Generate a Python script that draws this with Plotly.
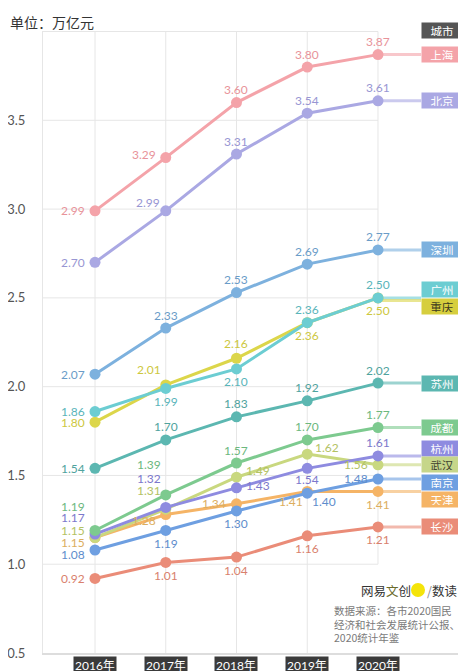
import plotly.graph_objects as go

# ---------------- data ----------------
years = [2016, 2017, 2018, 2019, 2020]
year_labels = ["2016年", "2017年", "2018年", "2019年", "2020年"]
y_ticks = [0.5, 1.0, 1.5, 2.0, 2.5, 3.0, 3.5]
y_tick_text = ["0.5", "1.0", "1.5", "2.0", "2.5", "3.0", "3.5"]

shanghai = [2.99, 3.29, 3.60, 3.80, 3.87]
beijing = [2.70, 2.99, 3.31, 3.54, 3.61]
shenzhen = [2.07, 2.33, 2.53, 2.69, 2.77]
guangzhou = [1.86, 1.99, 2.10, 2.36, 2.50]
chongqing = [1.80, 2.01, 2.16, 2.36, 2.50]
suzhou = [1.54, 1.70, 1.83, 1.92, 2.02]
chengdu = [1.19, 1.39, 1.57, 1.70, 1.77]
hangzhou = [1.17, 1.32, 1.43, 1.54, 1.61]
wuhan = [1.15, 1.31, 1.49, 1.62, 1.56]
nanjing = [1.08, 1.19, 1.30, 1.40, 1.48]
tianjin = [1.15, 1.28, 1.34, 1.41, 1.41]
changsha = [0.92, 1.01, 1.04, 1.16, 1.21]

cities = ["上海", "北京", "深圳", "广州", "重庆", "苏州",
          "成都", "杭州", "武汉", "南京", "天津", "长沙"]
values = {"上海": shanghai, "北京": beijing, "深圳": shenzhen, "广州": guangzhou,
          "重庆": chongqing, "苏州": suzhou, "成都": chengdu, "杭州": hangzhou,
          "武汉": wuhan, "南京": nanjing, "天津": tianjin, "长沙": changsha}

# ---------------- styles ----------------
line_color = {"上海": "#f4a3a9", "北京": "#aaa8e3", "深圳": "#7db1de", "广州": "#6ccdd2",
              "重庆": "#dcd64a", "苏州": "#5cb7b1", "成都": "#7dca8f", "杭州": "#8e8be0",
              "武汉": "#c9d87f", "南京": "#6e9fe1", "天津": "#f5b466", "长沙": "#ea8c78"}
label_color = {"上海": "#e8939a", "北京": "#9896d3", "深圳": "#6a9cc8", "广州": "#5ab5ba",
               "重庆": "#cdc740", "苏州": "#4fa39e", "成都": "#6cb87e", "杭州": "#7c78cc",
               "武汉": "#b3c264", "南京": "#5e8dcc", "天津": "#dcae5e", "长沙": "#d97f6d"}
badge_color = dict(line_color, **{"重庆": "#d6ce3e", "武汉": "#c6d68a"})
badge_text_color = {c: "#ffffff" for c in cities}
badge_text_color.update({"重庆": "#3d3a1e", "武汉": "#3f4230"})
# badge vertical nudges (data units) to avoid overlap
badge_nudge = {"广州": 0.048, "重庆": -0.048, "杭州": 0.044, "南京": -0.017, "天津": -0.043}
connector_nudge = {"重庆": -0.015}

L = (-8, 0, "right")
T = (0, 13, "center")
B = (0, -13, "center")
label_pos = {
    "上海": [L, (-8, 3, "right"), T, T, T],
    "北京": [L, (-4, 8, "right"), T, T, T],
    "深圳": [L, T, T, T, T],
    "广州": [L, B, B, T, T],
    "重庆": [L, (-3, 15, "right"), (0, 15, "center"), B, B],
    "苏州": [L, T, T, T, T],
    "成都": [(-8, 24, "right"), (-3, 30, "right"), T, T, T],
    "杭州": [(-8, 17, "right"), (-3, 29, "right"), (8, 2, "left"), (0, -11, "center"), T],
    "武汉": [(-8, 7, "right"), (-3, 19, "right"), (8, 7, "left"), (6, 7, "left"), L],
    "南京": [(-8, -4, "right"), B, B, (3, -8, "left"), L],
    "天津": [(-8, -5, "right"), (-8, -6, "right"), L, (-2, -10, "right"), B],
    "长沙": [L, B, B, B, B],
}

FONT = "Lato, 'Noto Sans CJK SC', sans-serif"
CJK = "'Noto Sans CJK SC', sans-serif"
GRID = "#e6e6e6"
X0, X1 = 2015.265, 2021.244
CONN_END = 2020.61
BADGE_X = 2020.905

fig = go.Figure()

# connectors from 2020 points to badges (drawn first, underneath)
for c in cities:
    v = values[c][-1] + connector_nudge.get(c, 0)
    fig.add_trace(go.Scatter(x=[years[-1], CONN_END], y=[v, v], mode="lines",
                             line=dict(color=line_color[c], width=3), opacity=0.6,
                             hoverinfo="skip", showlegend=False))

# main series (bottom first so top series draw over)
for c in reversed(cities):
    fig.add_trace(go.Scatter(x=years, y=values[c], mode="lines+markers", name=c,
                             line=dict(color=line_color[c], width=3),
                             marker=dict(size=11, color=line_color[c]),
                             cliponaxis=False, hoverinfo="skip", showlegend=False))

annotations = []
# value labels
for c in cities:
    for i, (x, v) in enumerate(zip(years, values[c])):
        dx, dy, anc = label_pos[c][i]
        annotations.append(dict(x=x, y=v, xref="x", yref="y", text=f"{v:.2f}",
                                showarrow=False, xshift=dx, yshift=dy, xanchor=anc,
                                yanchor="middle",
                                font=dict(family=FONT, size=12, color=label_color[c])))
# city badges
for c in cities:
    v = values[c][-1] + badge_nudge.get(c, 0)
    annotations.append(dict(x=BADGE_X, y=v, xref="x", yref="y", text=c, showarrow=False,
                            bgcolor=badge_color[c], width=36, height=11, borderpad=2,
                            font=dict(family=CJK, size=11.5, color=badge_text_color[c])))
# header badge
annotations.append(dict(x=BADGE_X, y=(653 - 22) / 622, xref="x", yref="paper", text="城市",
                        showarrow=False, bgcolor="#555555", width=36, height=11, borderpad=2,
                        font=dict(family=CJK, size=11.5, color="#ffffff")))
# unit
annotations.append(dict(x=-35 / 423, y=(653 - 22) / 622, xref="paper", yref="paper",
                        text="单位：万亿元", showarrow=False, xanchor="left", yanchor="middle",
                        font=dict(family=CJK, size=14, color="#333333")))
# year tick boxes
for x, t in zip(years, year_labels):
    annotations.append(dict(x=x, y=(653 - 665) / 622, xref="x", yref="paper", text=t,
                            showarrow=False, yanchor="middle", bgcolor="#3a3a3a",
                            borderpad=1,
                            font=dict(family=FONT, size=12, color="#ffffff")))
# brand
annotations.append(dict(x=2020 + (413 - 378) / 70.75, y=0.5 + (653 - 590) / 177.7,
                        xref="x", yref="y", showarrow=False, xanchor="right", yanchor="middle",
                        text="网易<span style='color:#6b6b2a'>文</span>创",
                        font=dict(family=CJK, size=12.5, color="#333333")))
annotations.append(dict(x=2020 + (425 - 378) / 70.75, y=0.5 + (653 - 590) / 177.7,
                        xref="x", yref="y", showarrow=False, xanchor="left", yanchor="middle",
                        text="<span style='color:#888'>/</span>数读",
                        font=dict(family=CJK, size=12.5, color="#333333")))
annotations.append(dict(x=2020 + (333 - 378) / 70.75, y=0.5 + (653 - 624) / 177.7,
                        xref="x", yref="y", showarrow=False, xanchor="left", yanchor="middle",
                        align="left", borderpad=0,
                        text="数据来源：各市2020国民<br>经济和社会发展统计公报、<br>2020统计年鉴",
                        font=dict(family=CJK, size=10.5, color="#7a7a7a")))

shapes = []
for yv in [1.0, 1.5, 2.0, 2.5, 3.0, 3.5, 4.0]:
    shapes.append(dict(type="line", xref="x", yref="y", x0=X0, x1=2020, y0=yv, y1=yv,
                       line=dict(color=GRID, width=1), layer="below"))
for x in years[:-1]:
    shapes.append(dict(type="line", xref="x", yref="y", x0=x, x1=x, y0=0.5, y1=4.0,
                       line=dict(color=GRID, width=1), layer="below"))
shapes.append(dict(type="line", xref="x", yref="y", x0=2020, x1=2020, y0=1.0, y1=4.0,
                   line=dict(color=GRID, width=1), layer="below"))
# yellow logo dot
shapes.append(dict(type="circle", xref="x", yref="y", xsizemode="pixel", ysizemode="pixel",
                   xanchor=2020 + (418 - 378) / 70.75, yanchor=0.5 + (653 - 590) / 177.7,
                   x0=-7, x1=7, y0=-7, y1=7, fillcolor="#f4e40a",
                   line=dict(width=0), layer="above"))

# the page body keeps an 8px default margin, so the figure is 8px smaller
fig.update_layout(
    width=458, height=663, autosize=False,
    margin=dict(l=35, r=0, t=23, b=18, pad=0),
    paper_bgcolor="#ffffff", plot_bgcolor="#ffffff",
    font=dict(family=FONT),
    showlegend=False,
    annotations=annotations, shapes=shapes,
    xaxis=dict(type="linear", range=[X0, X1], showgrid=False, zeroline=False,
               showticklabels=False, ticks="", showline=True, linecolor="#dddddd",
               linewidth=2, fixedrange=True, automargin=False),
    yaxis=dict(range=[0.5, 4.003], showgrid=False, zeroline=False, tickvals=y_ticks,
               ticktext=y_tick_text, ticks="", showline=True, linecolor=GRID, linewidth=1,
               ticklabelstandoff=14, tickfont=dict(family=FONT, size=13, color="#555555"),
               fixedrange=True, automargin=False),
)

fig.write_html("out.html")
